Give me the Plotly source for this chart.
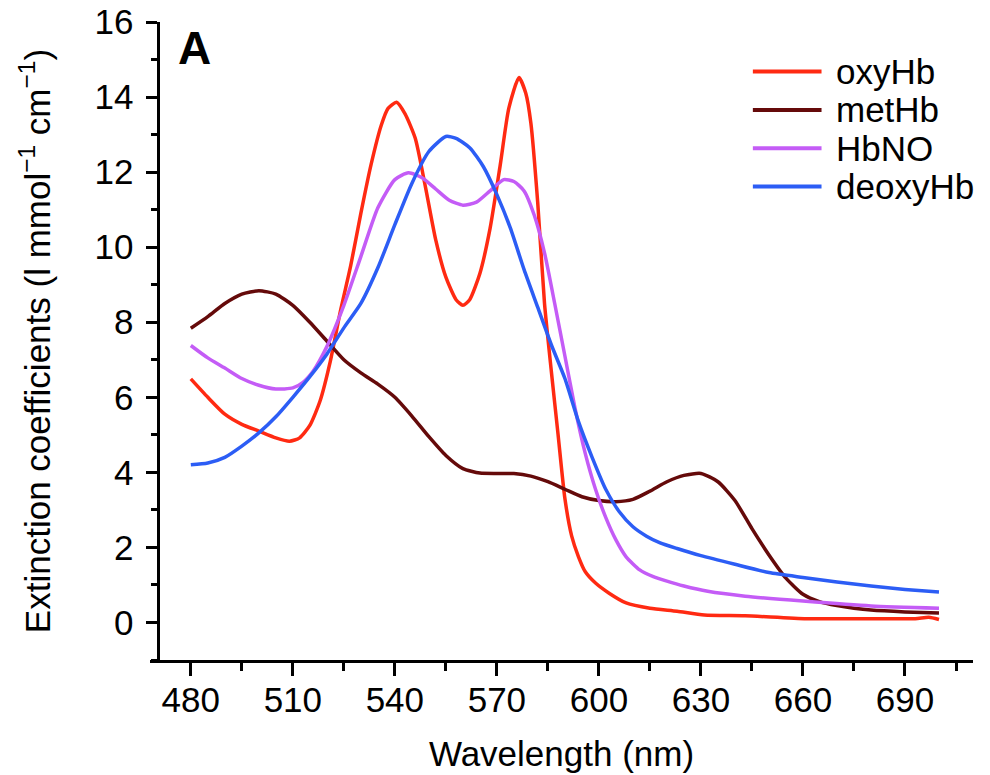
import plotly.graph_objects as go

# Absorption spectra of haemoglobin species
oxy_wl = [480, 485, 490, 495, 500, 505, 509, 512, 515, 518, 521, 524, 527, 530, 533,
          536, 538, 540.5, 543, 546, 549, 552, 555, 558, 560, 562, 565, 568, 571,
          573.5, 576.5, 578.5, 580, 582, 584, 586, 588, 590, 592, 594, 596, 599,
          603, 608, 615, 623, 631, 643, 661, 680, 693, 697, 700]
oxy_val = [6.49, 6.0, 5.55, 5.28, 5.1, 4.92, 4.83, 4.92, 5.25, 5.9, 6.95, 8.3, 9.5, 10.9, 12.2,
           13.25, 13.7, 13.86, 13.55, 12.9, 11.6, 10.2, 9.2, 8.6, 8.45, 8.6, 9.3, 10.5, 12.2,
           13.7, 14.52, 14.1, 13.3, 11.2, 8.5, 6.7, 5.0, 3.3, 2.3, 1.75, 1.35, 1.05,
           0.78, 0.52, 0.38, 0.3, 0.2, 0.18, 0.1, 0.1, 0.1, 0.14, 0.08]

met_wl = [480, 485, 490, 495, 500, 505, 510, 515, 520, 525, 530, 535, 540, 545, 550,
          555, 560, 565, 570, 575, 580, 585, 590, 595, 600, 605, 610, 615, 620, 625,
          630, 635, 640, 645, 650, 655, 660, 665, 670, 675, 680, 690, 700]
met_val = [7.84, 8.15, 8.5, 8.75, 8.84, 8.75, 8.45, 8.0, 7.5, 7.0, 6.65, 6.35, 6.0, 5.5, 4.95,
           4.45, 4.1, 3.98, 3.97, 3.97, 3.9, 3.75, 3.55, 3.35, 3.25, 3.22, 3.28, 3.5, 3.75, 3.92,
           3.97, 3.75, 3.25, 2.5, 1.8, 1.18, 0.75, 0.55, 0.45, 0.38, 0.33, 0.28, 0.25]

hbno_wl = [480, 485, 490, 495, 500, 505, 510, 513, 516, 520, 525, 530, 535, 540, 544,
           548, 552, 556, 560, 564, 568, 572, 575, 578, 581, 584, 587, 590, 593, 596,
           599, 602, 605, 608, 612, 616, 620, 625, 632, 643, 660, 680, 700]
hbno_val = [7.38, 7.05, 6.78, 6.5, 6.32, 6.22, 6.25, 6.4, 6.7, 7.35, 8.45, 9.75, 11.05, 11.8, 11.98,
            11.85, 11.55, 11.25, 11.12, 11.2, 11.5, 11.8, 11.75, 11.5, 10.85, 9.85, 8.5, 7.1, 5.7, 4.5,
            3.55, 2.8, 2.2, 1.75, 1.4, 1.22, 1.1, 0.97, 0.83, 0.7, 0.57, 0.44, 0.38]

deoxy_wl = [480, 485, 490, 495, 500, 505, 510, 515, 520, 525, 530, 535, 540, 545, 550,
            555, 558, 562, 566, 570, 574, 578, 582, 586, 590, 594, 598, 602, 606, 610,
            614, 618, 623, 630, 640, 650, 660, 670, 680, 690, 700]
deoxy_val = [4.2, 4.25, 4.4, 4.7, 5.05, 5.48, 6.0, 6.55, 7.15, 7.85, 8.5, 9.45, 10.6, 11.7, 12.55,
             12.95, 12.9, 12.65, 12.15, 11.4, 10.5, 9.4, 8.4, 7.4, 6.5, 5.35, 4.4, 3.55, 2.95, 2.55,
             2.3, 2.12, 1.97, 1.78, 1.55, 1.33, 1.2, 1.08, 0.97, 0.88, 0.81]

series_names = ["oxyHb", "metHb", "HbNO", "deoxyHb"]
series_colors = ["#ff2a12", "#650a0a", "#c45cf6", "#2c5df5"]
series_data = [(oxy_wl, oxy_val), (met_wl, met_val), (hbno_wl, hbno_val), (deoxy_wl, deoxy_val)]

x_ticks = [480, 510, 540, 570, 600, 630, 660, 690]
y_ticks = [0, 2, 4, 6, 8, 10, 12, 14, 16]

FONT = "Liberation Sans, Arial, Helvetica, sans-serif"

# the page adds an 8px body margin, so the figure is laid out 8px up/left
OFF = 8
PL, PR, PT, PB = 150 - OFF, 965 - OFF, 22 - OFF, 652 - OFF
PW, PH = PR - PL, PB - PT


def px_x(x):
    return (x - OFF - PL) / PW


def px_y(y):
    return 1 - (y - OFF - PT) / PH


fig = go.Figure()

for name, color, (wl, val) in zip(series_names, series_colors, series_data):
    fig.add_trace(
        go.Scatter(
            x=wl,
            y=val,
            mode="lines",
            name=name,
            line=dict(color=color, width=3.5, shape="spline", smoothing=0.6),
            showlegend=False,
        )
    )

# hand-built legend so the line samples are as long as in the original
legend_top = 71
legend_step = 37.8
for i, (name, color) in enumerate(zip(series_names, series_colors)):
    yp = px_y(legend_top + i * legend_step)
    fig.add_shape(
        type="line", xref="paper", yref="paper",
        x0=px_x(747), x1=px_x(815), y0=yp, y1=yp,
        line=dict(color=color, width=4),
    )
    fig.add_annotation(
        xref="paper", yref="paper", x=px_x(827), y=yp,
        text=name, showarrow=False, xanchor="left", yanchor="middle",
        font=dict(size=35, color="black", family=FONT),
    )

# panel letter
fig.add_annotation(
    xref="paper", yref="paper", x=px_x(176), y=px_y(20),
    text="<b>A</b>", showarrow=False, xanchor="left", yanchor="top",
    font=dict(size=46, color="black", family=FONT),
)

fig.update_xaxes(
    range=[468, 710],
    tickvals=x_ticks,
    ticks="outside", ticklen=13, tickwidth=2.5, tickcolor="black",
    minor=dict(dtick=15, tick0=495, ticks="outside", ticklen=8, tickwidth=2.5, tickcolor="black"),
    showline=True, linecolor="black", linewidth=2.5,
    showgrid=False, zeroline=False, automargin=False,
    ticklabelstandoff=-6, ticklabeloverflow="allow",
    tickfont=dict(size=35, color="black", family=FONT),
    title=dict(text="Wavelength (nm)", font=dict(size=35, color="black", family=FONT), standoff=24),
)
fig.update_yaxes(
    range=[-1, 16],
    tickvals=y_ticks,
    anchor="free", position=0.01,
    ticks="outside", ticklen=11, tickwidth=2.5, tickcolor="black",
    minor=dict(dtick=1, tick0=1, ticks="outside", ticklen=6, tickwidth=2.5, tickcolor="black"),
    showline=True, linecolor="black", linewidth=2.5,
    showgrid=False, zeroline=False, automargin=False,
    ticklabelstandoff=6, ticklabeloverflow="allow",
    tickfont=dict(size=35, color="black", family=FONT),
    title=dict(text="Extinction coefficients (l mmol<sup>\u22121</sup> cm<sup>\u22121</sup>)",
               font=dict(size=35, color="black", family=FONT), standoff=32),
)

fig.update_layout(
    width=990,
    height=775,
    margin=dict(l=PL, r=990 - PR - OFF, t=PT, b=775 - PB - OFF),
    plot_bgcolor="white",
    paper_bgcolor="white",
    showlegend=False,
)

fig.write_html("out.html")
